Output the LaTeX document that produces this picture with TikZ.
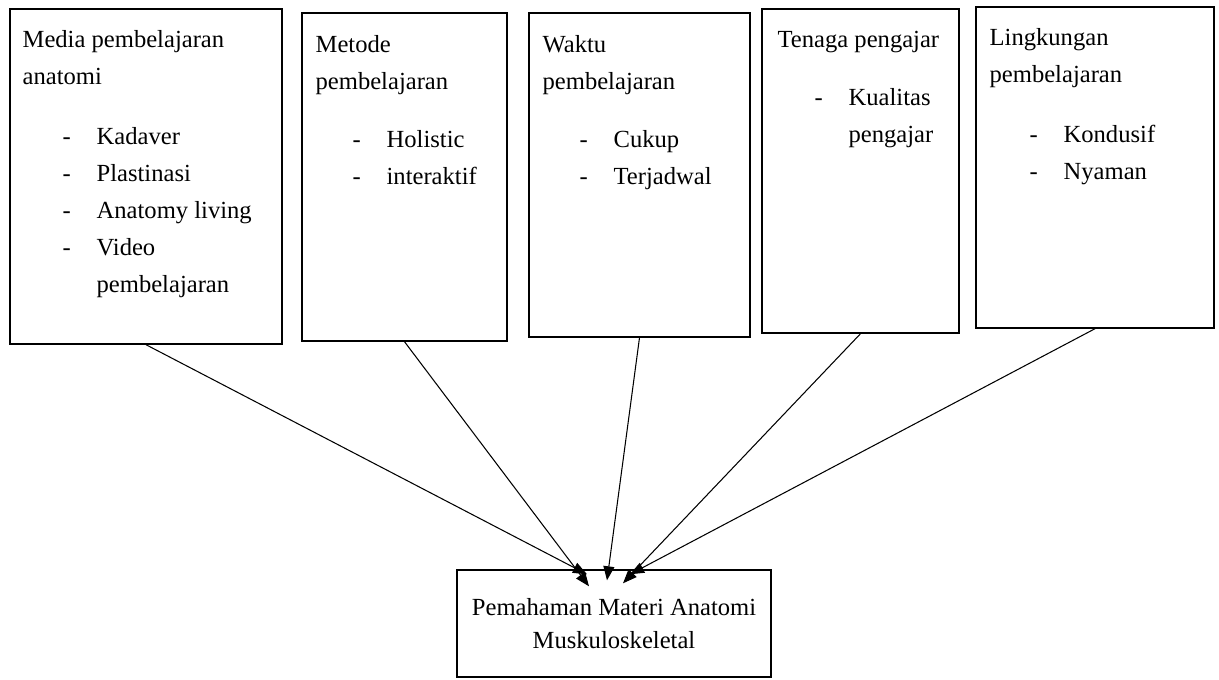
\documentclass[tikz,border=0pt]{standalone}
\usepackage{fontspec}
\setmainfont{Liberation Serif}
\usetikzlibrary{positioning,arrows.meta}
\newcommand{\butir}[1]{\makebox[0.68cm][l]{-}#1}

\begin{document}
\begin{tikzpicture}[
    faktor/.style={draw, line width=0.8pt, inner sep=0pt},
    judul/.style={anchor=base west, inner sep=0pt, align=left, font=\fontsize{14}{21}\selectfont},
    daftar/.style={judul},
    panah/.style={-{Triangle[length=0.28cm,width=0.22cm]}, line width=0.6pt}]
  \useasboundingbox (0,0) rectangle (24.38,-13.6);
  \node[faktor, minimum width=5.44cm, minimum height=6.70cm] (media) at (2.92,-3.53) {};
  \node[faktor, minimum width=4.10cm, minimum height=6.56cm] (metode) at (8.09,-3.54) {};
  \node[faktor, minimum width=4.42cm, minimum height=6.48cm] (waktu) at (12.79,-3.50) {};
  \node[faktor, minimum width=3.94cm, minimum height=6.48cm] (tenaga) at (17.21,-3.42) {};
  \node[faktor, minimum width=4.76cm, minimum height=6.42cm] (lingkungan) at (21.90,-3.35) {};

  % base = baseline of the last line
  \node[judul] (mediaJ) at ([shift={(0.26,-1.52)}]media.north west) {Media pembelajaran\\anatomi};
  \node[daftar] (mediaD) at ([shift={(1.06,-5.68)}]media.north west)
    {\butir{Kadaver}\\\butir{Plastinasi}\\\butir{Anatomy living}\\\butir{Video}\\\hspace*{0.68cm}pembelajaran};
  \node[judul] (metodeJ) at ([shift={(0.28,-1.54)}]metode.north west) {Metode\\pembelajaran};
  \node[daftar] (metodeD) at ([shift={(1.02,-3.44)}]metode.north west) {\butir{Holistic}\\\butir{interaktif}};
  \node[judul] (waktuJ) at ([shift={(0.28,-1.54)}]waktu.north west) {Waktu\\pembelajaran};
  \node[daftar] (waktuD) at ([shift={(1.02,-3.44)}]waktu.north west) {\butir{Cukup}\\\butir{Terjadwal}};
  \node[judul] (tenagaJ) at ([shift={(0.32,-0.78)}]tenaga.north west) {Tenaga pengajar};
  \node[daftar] (tenagaD) at ([shift={(1.06,-2.68)}]tenaga.north west) {\butir{Kualitas}\\\hspace*{0.68cm}pengajar};
  \node[judul] (lingkunganJ) at ([shift={(0.28,-1.52)}]lingkungan.north west) {Lingkungan\\pembelajaran};
  \node[daftar] (lingkunganD) at ([shift={(1.08,-3.46)}]lingkungan.north west) {\butir{Kondusif}\\\butir{Nyaman}};

  \node[faktor, minimum width=6.28cm, minimum height=2.14cm, align=center, font=\fontsize{14}{19}\selectfont]
    (hasil) at (12.28,-12.47) {Pemahaman Materi Anatomi\\Muskuloskeletal};

  \coordinate (t1) at ([shift={(-0.54,-0.10)}]hasil.north);
  \coordinate (t2) at ([shift={(-0.50,-0.34)}]hasil.north);
  \coordinate (t3) at ([shift={(-0.14,-0.22)}]hasil.north);
  \coordinate (t4) at ([shift={(0.18,-0.28)}]hasil.north);
  \coordinate (t5) at ([shift={(0.32,-0.10)}]hasil.north);
  \draw[panah] (media.south) -- (t1);
  \draw[panah] (metode.south) -- (t2);
  \draw[panah] (waktu.south) -- (t3);
  \draw[panah] (tenaga.south) -- (t4);
  \draw[panah] (lingkungan.south) -- (t5);
\end{tikzpicture}
\end{document}
